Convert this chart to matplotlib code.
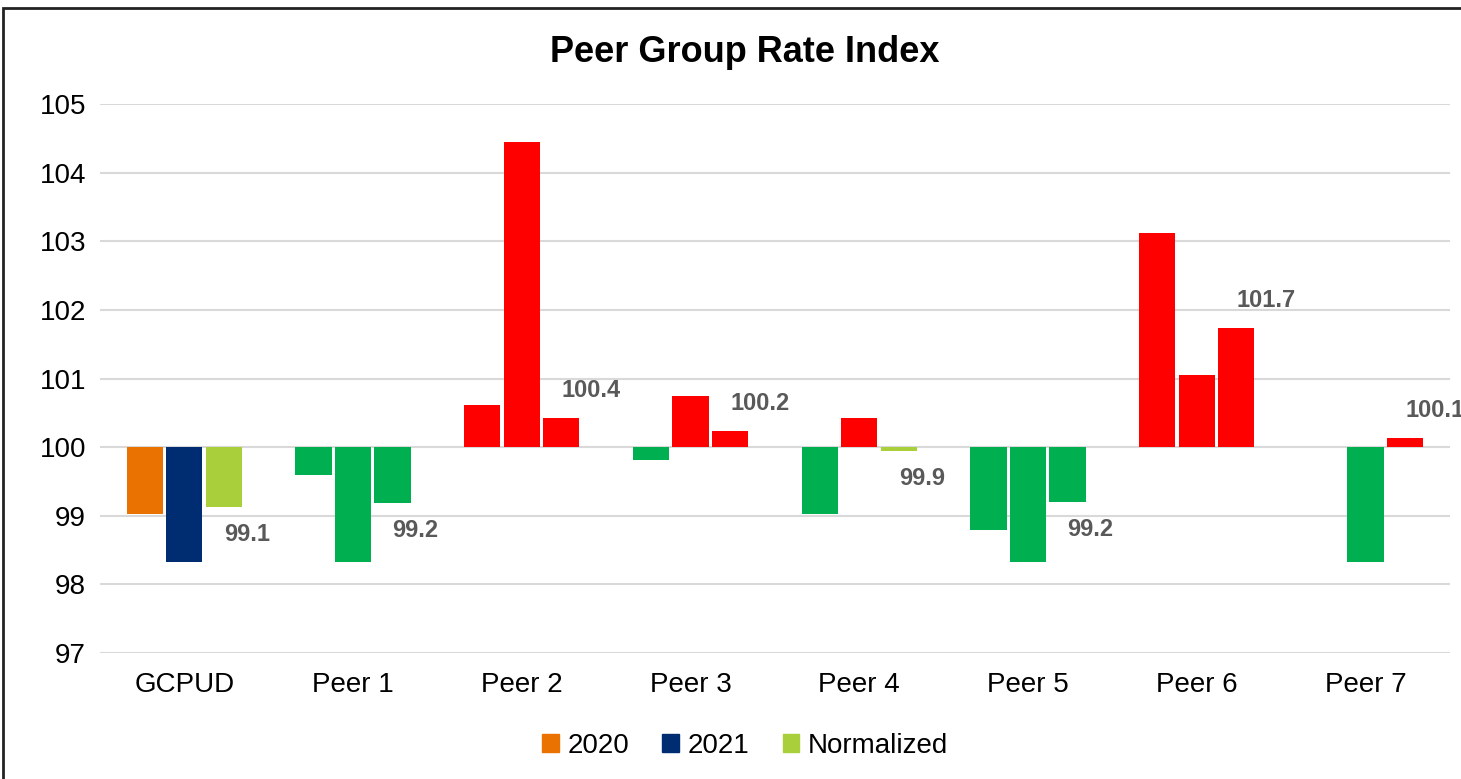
import matplotlib
matplotlib.use("Agg")
from matplotlib import pyplot as plt
from matplotlib.patches import Rectangle, Patch
import numpy as np

plt.rcParams['font.family'] = ['Liberation Sans', 'DejaVu Sans']

categories = ["GCPUD", "Peer 1", "Peer 2", "Peer 3", "Peer 4", "Peer 5", "Peer 6", "Peer 7"]
idx_2020 = [99.02, 99.60, 100.62, 99.81, 99.02, 98.80, 103.12, 100.0]
idx_2021 = [98.33, 98.33, 104.45, 100.74, 100.43, 98.33, 101.05, 98.33]
idx_norm = [99.13, 99.19, 100.43, 100.23, 99.94, 99.20, 101.74, 100.14]

series_names = ["2020", "2021", "Normalized"]
series_colors = ["#e97200", "#002d72", "#a9d03a"]
up_color = "#ff0000"
down_color = "#00b050"

fig = plt.figure(figsize=(14.61, 7.79), dpi=100)
ax = fig.add_axes([0.0684, 0.1617, 0.924, 0.7048])

x = np.arange(len(categories))
w = 0.215
step = 0.234
base = 100

for s, vals in enumerate([idx_2020, idx_2021, idx_norm]):
    cols = []
    for i, v in enumerate(vals):
        if i == 0:
            cols.append(series_colors[s])
        elif s == 2 and abs(v - base) < 0.1:
            cols.append(series_colors[s])
        elif v >= base:
            cols.append(up_color)
        else:
            cols.append(down_color)
    vals = np.array(vals)
    ax.bar(x + (s - 1) * step, vals - base, bottom=base, width=w, color=cols, zorder=3)

# labels for the normalized series
for i, v in enumerate(idx_norm):
    off = 0.4 if v >= base else -0.4
    ax.text(x[i] + step, v + off, f"{v:.1f}", ha="left", va="center",
            fontsize=17, fontweight="bold", color="#595959", zorder=4)

ax.set_ylim(97, 105)
ax.set_xlim(-0.5, len(categories) - 0.5)
ax.set_yticks(range(97, 106))
ax.set_xticks(x)
ax.set_xticklabels(categories)
ax.tick_params(axis="both", length=0, labelsize=20, colors="black")
ax.tick_params(axis="y", pad=10)
ax.tick_params(axis="x", pad=14)
ax.grid(axis="y", color="#d9d9d9", linewidth=1.5, zorder=0)
for sp in ax.spines.values():
    sp.set_visible(False)

fig.text(0.51, 0.933, "Peer Group Rate Index", ha="center", va="center",
         fontsize=26, fontweight="bold")

handles = [Patch(color=c, label=n) for c, n in zip(series_colors, series_names)]
fig.legend(handles=handles, loc="center", bbox_to_anchor=(0.51, 0.043), ncol=3,
           frameon=False, fontsize=20, handlelength=0.6, handleheight=0.6,
           handletextpad=0.3, columnspacing=1.2)

fig.patches.append(Rectangle((0.002, -0.01), 1.2, 1.0, transform=fig.transFigure,
                             fill=False, edgecolor="#222222", linewidth=2))

fig.savefig("out.png", dpi=100)
